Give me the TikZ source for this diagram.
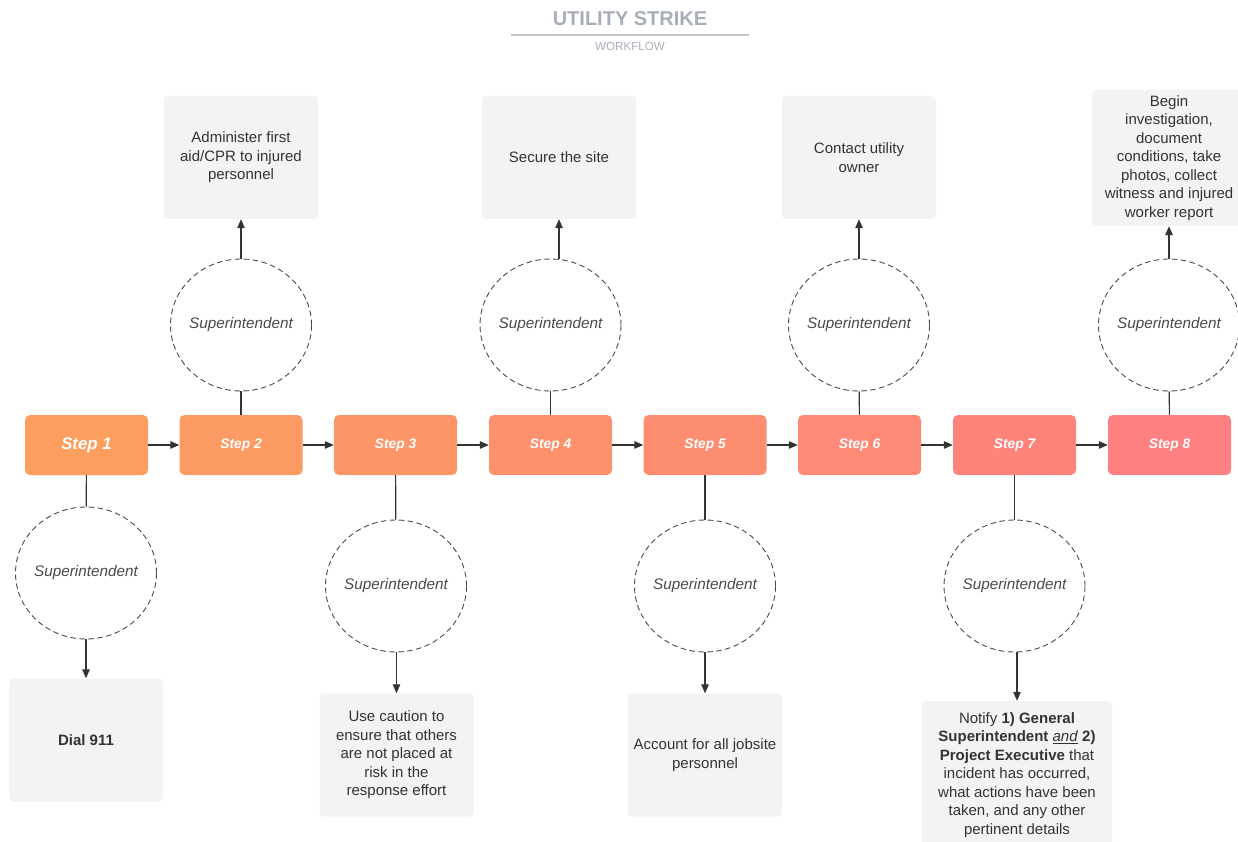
\documentclass[tikz,border=0pt]{standalone}
\usepackage{fontspec}
\setmainfont{Liberation Sans}
\usetikzlibrary{arrows.meta,positioning,shapes.geometric}

\definecolor{stepone}{HTML}{FB9E5E}
\definecolor{steptwo}{HTML}{FC9A63}
\definecolor{stepthree}{HTML}{FC9568}
\definecolor{stepfour}{HTML}{FD916D}
\definecolor{stepfive}{HTML}{FD8D71}
\definecolor{stepsix}{HTML}{FE8976}
\definecolor{stepseven}{HTML}{FE847B}
\definecolor{stepeight}{HTML}{FF8080}
\definecolor{taskgray}{HTML}{F3F3F3}
\definecolor{inkgray}{HTML}{333333}
\definecolor{dashgray}{HTML}{4A4A4A}
\definecolor{titlegray}{HTML}{A8AEB8}

\begin{document}
\begin{tikzpicture}[x=1pt, y=-1pt,
    stepbox/.style={rounded corners=5pt, minimum width=123pt, minimum height=60pt, inner sep=0pt,
        text=white, font=\bfseries\itshape\fontsize{13.8}{16}\selectfont},
    role/.style={ellipse, draw=dashgray, dash pattern=on 5.5pt off 3.5pt, line width=0.9pt,
        minimum width=141pt, minimum height=132pt, inner xsep=-8pt, inner ysep=0pt,
        text=dashgray, font=\itshape\fontsize{15.3}{18}\selectfont},
    task/.style={fill=taskgray, rounded corners=4pt, minimum width=154pt, minimum height=123pt,
        inner sep=0pt, align=center, text=inkgray, font=\fontsize{15}{18.5}\selectfont},
    link/.style={draw=inkgray, line width=1.2pt},
    flow/.style={link, -{Triangle[length=9pt, width=7.5pt]}}]
    \useasboundingbox (0,0) rectangle (1238,842);

    % Title
    \node[text=titlegray, font=\bfseries\fontsize{20}{23}\selectfont] (title) at (630,19) {UTILITY STRIKE};
    \draw[titlegray!70, line width=1.3pt] (511,35) -- (749,35);
    \node[text=titlegray, font=\fontsize{11.6}{13}\selectfont] (subtitle) at (630,47) {WORKFLOW};

    % Steps
    \node[stepbox, fill=stepone, font=\bfseries\itshape\fontsize{16.8}{19}\selectfont] (s1) at (86.5,445) {Step 1};
    \node[stepbox, fill=steptwo] (s2) at (241,445) {Step 2};
    \node[stepbox, fill=stepthree] (s3) at (395.5,445) {Step 3};
    \node[stepbox, fill=stepfour] (s4) at (550.5,445) {Step 4};
    \node[stepbox, fill=stepfive] (s5) at (705,445) {Step 5};
    \node[stepbox, fill=stepsix] (s6) at (859.5,445) {Step 6};
    \node[stepbox, fill=stepseven] (s7) at (1014.5,445) {Step 7};
    \node[stepbox, fill=stepeight] (s8) at (1169.5,445) {Step 8};

    \draw[flow] (s1) -- (s2);
    \draw[flow] (s2) -- (s3);
    \draw[flow] (s3) -- (s4);
    \draw[flow] (s4) -- (s5);
    \draw[flow] (s5) -- (s6);
    \draw[flow] (s6) -- (s7);
    \draw[flow] (s7) -- (s8);

    % Who does it
    \node[role] (r1) at (86,573) {Superintendent};
    \node[role] (r2) at (241,325) {Superintendent};
    \node[role] (r3) at (396,586) {Superintendent};
    \node[role] (r4) at (550.5,325) {Superintendent};
    \node[role] (r5) at (705,586) {Superintendent};
    \node[role] (r6) at (859,325) {Superintendent};
    \node[role] (r7) at (1014.5,586) {Superintendent};
    \node[role] (r8) at (1169,325) {Superintendent};

    % What to do
    \node[task, font=\bfseries\fontsize{15}{18.5}\selectfont] (t1) at (86,740) {Dial 911};
    \node[task] (t2) at (241,157.5) {Administer first\\aid/CPR to injured\\personnel};
    \node[task] (t3) at (396.5,755) {Use caution to\\ensure that others\\are not placed at\\risk in the\\response effort};
    \node[task] (t4) at (559,157.5) {Secure the site};
    \node[task] (t5) at (705,755) {Account for all jobsite\\personnel};
    \node[task] (t6) at (859,157.5) {Contact utility\\owner};
    \node[task, minimum width=190pt, minimum height=148pt] (t7) at (1017,775)
        {Notify \textbf{1) General}\\\textbf{Superintendent} \underline{\textit{and}} \textbf{2)}\\\textbf{Project Executive} that\\incident has occurred,\\what actions have been\\taken, and any other\\pertinent details};
    \node[task, minimum height=136pt] (t8) at (1169,158) {Begin\\investigation,\\document\\conditions, take\\photos, collect\\witness and injured\\worker report};

    \foreach \i in {1,...,8} {
        \draw[link] (s\i) -- (r\i);
    }
    \foreach \i in {1,3,5,7} {
        \draw[flow] (t\i.north |- r\i.south) -- (t\i.north);
    }
    \foreach \i in {2,4,6,8} {
        \draw[flow] (t\i.south |- r\i.north) -- (t\i.south);
    }
\end{tikzpicture}
\end{document}
